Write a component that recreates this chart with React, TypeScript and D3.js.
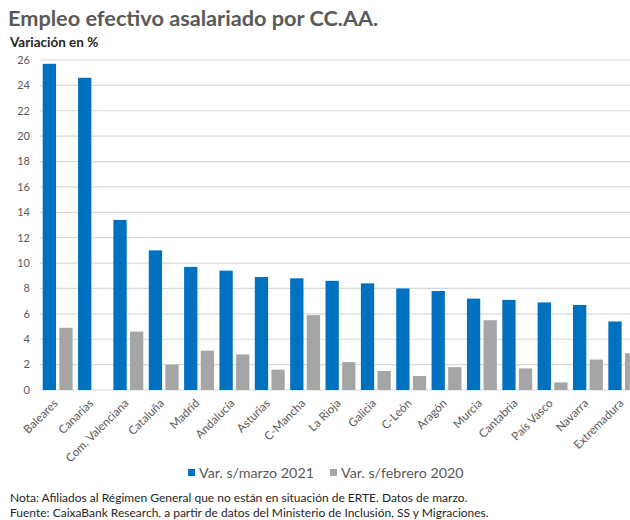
import * as d3 from "d3";

const categories = [
  "Baleares", "Canarias", "Com. Valenciana", "Cataluña", "Madrid", "Andalucía",
  "Asturias", "C-Mancha", "La Rioja", "Galicia", "C-León", "Aragón", "Murcia",
  "Cantabria", "País Vasco", "Navarra", "Extremadura",
];
const varMarzo2021 = [25.7, 24.6, 13.4, 11.0, 9.7, 9.4, 8.9, 8.8, 8.6, 8.4, 8.0, 7.8, 7.2, 7.1, 6.9, 6.7, 5.4];
const varFebrero2020 = [4.9, 0, 4.6, 2.0, 3.1, 2.8, 1.6, 5.9, 2.2, 1.5, 1.1, 1.8, 5.5, 1.7, 0.6, 2.4, 2.9];
const seriesNames = ["Var. s/marzo 2021", "Var. s/febrero 2020"];
const colors = ["#0070C0", "#A5A5A5"];
const yTicks = d3.range(0, 27, 2);

const W = 630;
const H = 520;
const font = "Lato, 'Open Sans', sans-serif";

export default function App() {
  const x = d3.scaleBand<string>().domain(categories).range([40, 641]);
  const x1 = d3.scaleBand<string>().domain(seriesNames).range([2.7, 32.6]).paddingInner(0.2);
  const y = d3.scaleLinear().domain([0, 26]).range([390, 60]);
  const series = [varMarzo2021, varFebrero2020];

  return (
    <div style={{ position: "absolute", left: 0, top: 0 }}>
      <svg width={W} height={H} style={{ display: "block", fontFamily: font }}>
        <rect width={W} height={H} fill="#fff" />
        <text x={8} y={26} fontSize={21.7} fontWeight={700} fill="#595959">
          Empleo efectivo asalariado por CC.AA.
        </text>
        <text x={10} y={46.5} fontSize={13.5} fontWeight={700} fill="#262626">
          Variación en %
        </text>

        {yTicks.map((t) => (
          <g key={t}>
            <line x1={40} x2={W} y1={y(t)} y2={y(t)} stroke="#D9D9D9" strokeWidth={1.2} />
            <text x={30} y={y(t)} dy="0.35em" textAnchor="end" fontSize={11} fill="#595959">
              {t}
            </text>
          </g>
        ))}

        {categories.map((c, i) => (
          <g key={c} transform={`translate(${x(c)},0)`}>
            {series.map((s, j) => (
              <rect
                key={j}
                x={x1(seriesNames[j])}
                width={x1.bandwidth()}
                y={y(s[i])}
                height={y(0) - y(s[i])}
                fill={colors[j]}
              />
            ))}
          </g>
        ))}

        {categories.map((c) => (
          <text
            key={c}
            transform={`translate(${(x(c) as number) + x.bandwidth() / 2 + 1},404) rotate(-45)`}
            textAnchor="end"
            fontSize={11.6}
            fill="#595959"
          >
            {c}
          </text>
        ))}

        {seriesNames.map((n, j) => {
          const lx = j === 0 ? 188 : 330;
          return (
            <g key={n}>
              <rect x={lx} y={469} width={7} height={7} fill={colors[j]} />
              <text x={lx + 11} y={477.5} fontSize={14.3} fill="#595959">
                {n}
              </text>
            </g>
          );
        })}

        <text x={10} y={502} fontSize={12} fill="#262626">
          Nota: Afiliados al Régimen General que no están en situación de ERTE. Datos de marzo.
        </text>
        <text x={10} y={516.5} fontSize={12} fill="#262626">
          Fuente: CaixaBank Research, a partir de datos del Ministerio de Inclusión, SS y Migraciones.
        </text>
      </svg>
    </div>
  );
}
